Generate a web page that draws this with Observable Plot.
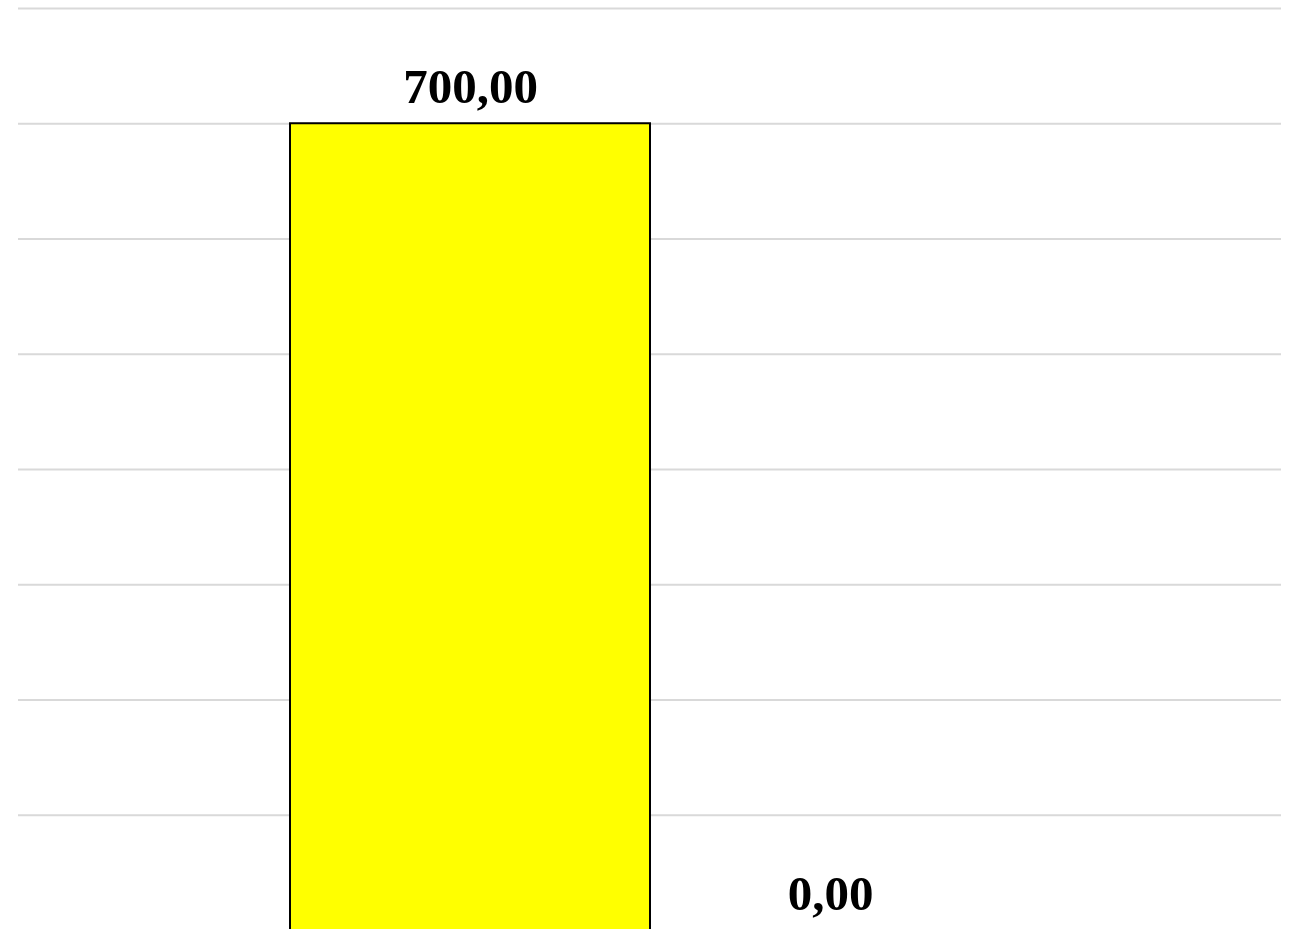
<!DOCTYPE html>
<html>
<head>
<meta charset="utf-8">
<script src="https://cdn.jsdelivr.net/npm/d3@7"></script>
<script src="https://cdn.jsdelivr.net/npm/@observablehq/plot@0.6"></script>
<style>
  html, body { margin: 0; padding: 0; background: #fff; overflow: hidden; }
</style>
</head>
<body>
<div id="chart"></div>
<script>
const series = ["Série 1", "Série 2"];
const values = [700, 0];
const gridTicks = [0, 100, 200, 300, 400, 500, 600, 700, 800];
const barColors = ["#ffff00", "#ffff00"];

const data = series.map((s, i) => ({series: s, value: values[i], color: barColors[i]}));
const fmt = d3.formatLocale({decimal: ",", thousands: ".", grouping: [3], currency: ["", ""]}).format(".2f");

const chart = Plot.plot({
  width: 1297,
  height: 940,
  marginLeft: 18,
  marginRight: 16,
  marginTop: 8,
  marginBottom: 10,
  style: {background: "#fff", overflow: "visible"},
  x: {domain: series, paddingInner: 0, paddingOuter: 0.75, axis: null},
  y: {domain: [0, 800], axis: null},
  marks: [
    Plot.ruleY(gridTicks, {stroke: "#d9d9d9", strokeWidth: 2}),
    Plot.barY(data, {x: "series", y: "value", fill: d => d.color, stroke: "#000", strokeWidth: 2}),
    Plot.text(data, {
      x: "series", y: "value", text: d => fmt(d.value),
      dy: -21, lineAnchor: "bottom", textAnchor: "middle",
      fontFamily: "Liberation Serif", fontWeight: "bold", fontSize: 49, fill: "#000"
    })
  ]
});
document.getElementById("chart").appendChild(chart);
</script>
</body>
</html>
